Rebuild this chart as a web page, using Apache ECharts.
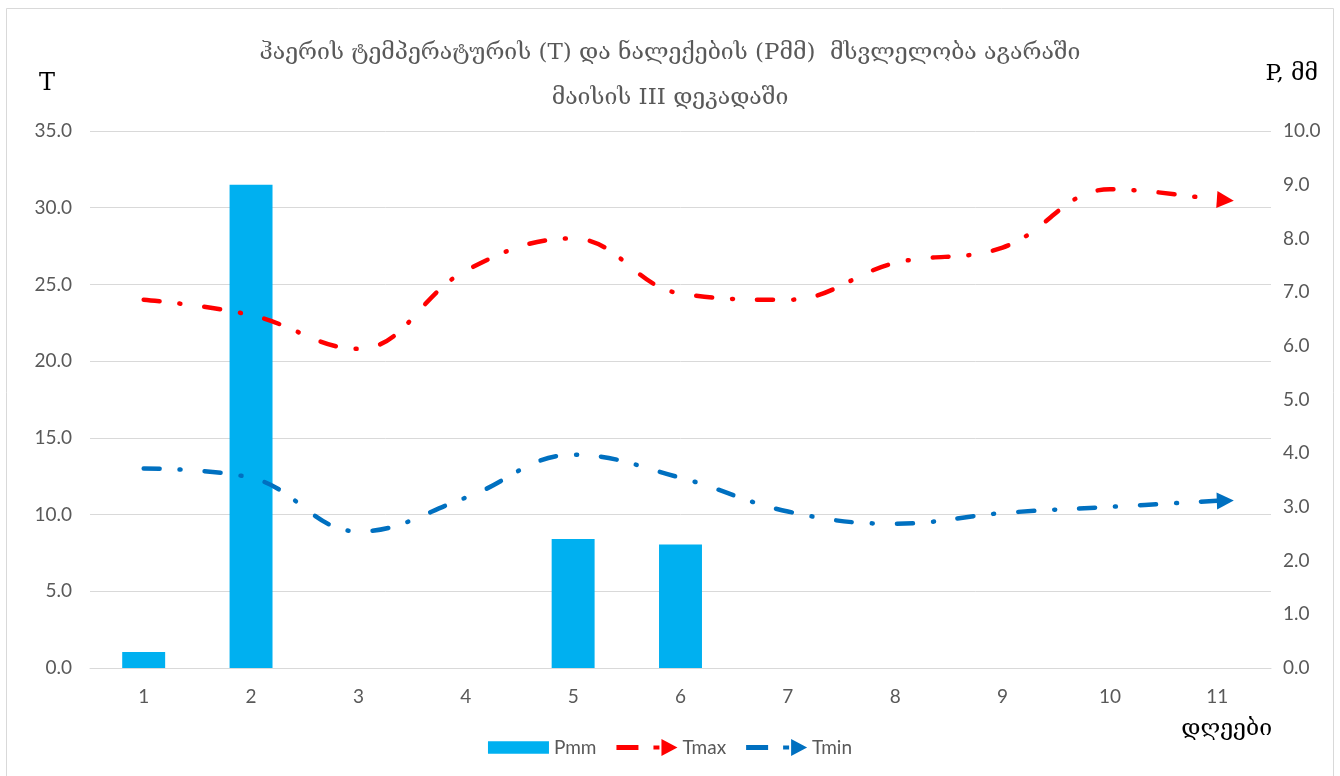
<!DOCTYPE html>
<html>
<head>
<meta charset="utf-8">
<script src="https://cdn.jsdelivr.net/npm/echarts@6/dist/echarts.min.js"></script>
<style>
  html, body { margin: 0; padding: 0; background: #ffffff; }
  #chart { width: 1340px; height: 776px; }
</style>
</head>
<body>
<div id="chart"></div>
<script>
// Days of the third decade of May
const days = ['1', '2', '3', '4', '5', '6', '7', '8', '9', '10', '11'];
// Precipitation, mm (right axis)
const pmm = [0.3, 9.0, 0, 0, 2.4, 2.3, 0, 0, 0, 0, 0];
// Maximum and minimum air temperature, °C (left axis)
const tmax = [24.0, 23.0, 20.8, 25.9, 28.0, 24.4, 24.0, 26.4, 27.4, 31.2, 30.5];
const tmin = [13.0, 12.4, 8.9, 11.1, 13.9, 12.4, 10.2, 9.4, 10.1, 10.5, 10.9];

const titleLine1 = 'ჰაერის ტემპერატურის (T) და ნალექების (Pმმ)  მსვლელობა აგარაში';
const titleLine2 = 'მაისის III დეკადაში';

const labelFont = 'Lato, "Open Sans", sans-serif';
const titleFont = '"DejaVu Serif", "DejaVu Sans", serif';
const grey = '#595959';
const dashDot = [16, 20, 1, 24];

// last point carries an arrowhead
function withArrow(values, rotate) {
  return values.map((v, i) => i === values.length - 1
    ? { value: v, symbol: 'triangle', symbolSize: [17, 17], symbolRotate: rotate, symbolOffset: [8, 0] }
    : v);
}

// legend icons: dash, dot and arrowhead in a 61x17 box
const arrowIcon = 'path://M0,6L22,6L22,11L0,11Z M37,6.5L43,6.5L43,10.5L37,10.5Z M45,0L61,8.5L45,17Z';
const rectIcon = 'path://M0,0L59,0L59,12L0,12Z';

const titleStyle = { fontFamily: titleFont, fontSize: 23, fontWeight: 'normal', color: grey };

const chart = echarts.init(document.getElementById('chart'));
chart.setOption({
  backgroundColor: '#ffffff',
  animation: false,
  title: [
    { text: titleLine1, left: 'center', top: 42, padding: 0, textStyle: titleStyle },
    { text: titleLine2, left: 'center', top: 87, padding: 0, textStyle: titleStyle }
  ],
  legend: {
    left: 'center',
    top: 738,
    padding: 0,
    itemWidth: 61,
    itemHeight: 17,
    itemGap: 20,
    textStyle: { fontFamily: labelFont, fontSize: 19, color: grey },
    data: [
      { name: 'Pmm', icon: rectIcon },
      { name: 'Tmax', icon: arrowIcon },
      { name: 'Tmin', icon: arrowIcon }
    ]
  },
  grid: { left: 90, right: 69, top: 131, bottom: 108 },
  xAxis: {
    type: 'category',
    data: days,
    boundaryGap: true,
    axisLine: { show: true, lineStyle: { color: '#d9d9d9', width: 1 } },
    axisTick: { show: false },
    axisLabel: { color: grey, fontFamily: labelFont, fontSize: 19, margin: 19 }
  },
  yAxis: [
    {
      type: 'value',
      min: 0, max: 35, interval: 5,
      axisLine: { show: false },
      axisTick: { show: false },
      splitLine: { lineStyle: { color: '#d9d9d9', width: 1 } },
      axisLabel: {
        color: grey, fontFamily: labelFont, fontSize: 19, margin: 18,
        formatter: v => v.toFixed(1)
      }
    },
    {
      type: 'value',
      min: 0, max: 10, interval: 1,
      axisLine: { show: false },
      axisTick: { show: false },
      splitLine: { show: false },
      axisLabel: {
        color: grey, fontFamily: labelFont, fontSize: 19, margin: 12,
        formatter: v => v.toFixed(1)
      }
    }
  ],
  series: [
    {
      name: 'Pmm',
      type: 'bar',
      yAxisIndex: 1,
      data: pmm,
      barWidth: '40%',
      itemStyle: { color: '#00b0f0' }
    },
    {
      name: 'Tmax',
      type: 'line',
      yAxisIndex: 0,
      data: withArrow(tmax, -94),
      smooth: 0.4,
      symbol: 'none',
      itemStyle: { color: '#ff0000' },
      lineStyle: { color: '#ff0000', width: 4.5, type: dashDot, cap: 'round' }
    },
    {
      name: 'Tmin',
      type: 'line',
      yAxisIndex: 0,
      data: withArrow(tmin, -88),
      smooth: 0.4,
      symbol: 'none',
      itemStyle: { color: '#0070c0' },
      lineStyle: { color: '#0070c0', width: 4.5, type: dashDot, cap: 'round' }
    }
  ],
  graphic: [
    {
      type: 'rect',
      silent: true,
      z: -10,
      shape: { x: 6.5, y: 8.5, width: 1327, height: 800 },
      style: { fill: 'none', stroke: '#d9d9d9', lineWidth: 1 }
    },
    {
      type: 'text',
      left: 39, top: 72,
      style: { text: 'T', fontFamily: '"DejaVu Serif", serif', fontSize: 24, fill: '#000000' }
    },
    {
      type: 'text',
      right: 22, top: 63,
      style: { text: 'P, მმ', fontFamily: titleFont, fontSize: 23, fill: '#000000' }
    },
    {
      type: 'text',
      right: 68, top: 718,
      style: { text: 'დღეები', fontFamily: titleFont, fontSize: 23, fill: '#000000' }
    }
  ]
});
</script>
</body>
</html>
